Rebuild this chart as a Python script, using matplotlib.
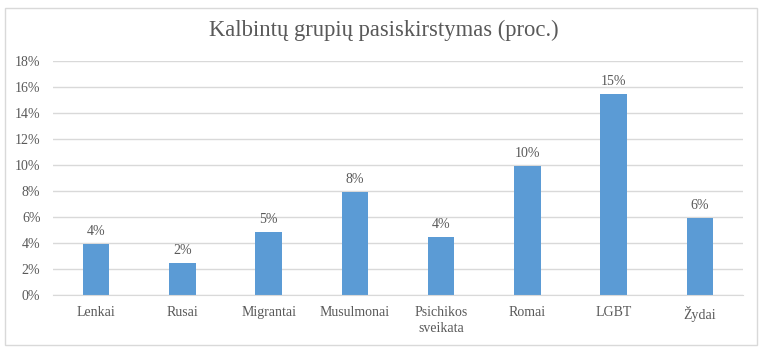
import matplotlib.pyplot as plt
from matplotlib.patches import Rectangle

categories = ["Lenkai", "Rusai", "Migrantai", "Musulmonai", "Psichikos\nsveikata",
              "Romai", "LGBT", "Žydai"]
values = [3.9, 2.45, 4.85, 7.9, 4.45, 9.9, 15.45, 5.95]
value_labels = ["4%", "2%", "5%", "8%", "4%", "10%", "15%", "6%"]
yticks = [0, 2, 4, 6, 8, 10, 12, 14, 16, 18]

plt.rcParams["font.family"] = ["Liberation Serif", "DejaVu Serif"]
txt = "#595959"

fig = plt.figure(figsize=(7.68, 3.53), dpi=100)
fig.patches.append(Rectangle((5 / 768, 8 / 353), 752 / 768, 337 / 353,
                             transform=fig.transFigure, fill=False,
                             edgecolor="#d9d9d9", linewidth=1))
ax = fig.add_axes([53 / 768, 58 / 353, 690 / 768, 234 / 353])

x = range(len(categories))
ax.bar(x, values, width=0.31, color="#5b9bd5", zorder=2)
for xi, v, lab in zip(x, values, value_labels):
    ax.text(xi, v + 0.45, lab, ha="center", va="bottom", fontsize=10, color=txt)

ax.set_xlim(-0.5, len(categories) - 0.5)
ax.set_ylim(0, 18)
ax.set_yticks(yticks)
ax.set_yticklabels([f"{t}%" for t in yticks])
ax.set_xticks(list(x))
ax.set_xticklabels(categories, linespacing=1.3, va="top")
ax.tick_params(axis="both", length=0, labelsize=10, colors=txt)
ax.tick_params(axis="y", pad=9)
ax.tick_params(axis="x", pad=8)
ax.grid(axis="y", color="#d9d9d9", linewidth=1, zorder=0)
for s in ["top", "right", "left"]:
    ax.spines[s].set_visible(False)
ax.spines["bottom"].set_color("#d9d9d9")

fig.text(0.5, 1 - 30 / 353, "Kalbintų grupių pasiskirstymas (proc.)",
         ha="center", va="center", fontsize=16.3, color=txt)

fig.savefig("out.png", dpi=100)
